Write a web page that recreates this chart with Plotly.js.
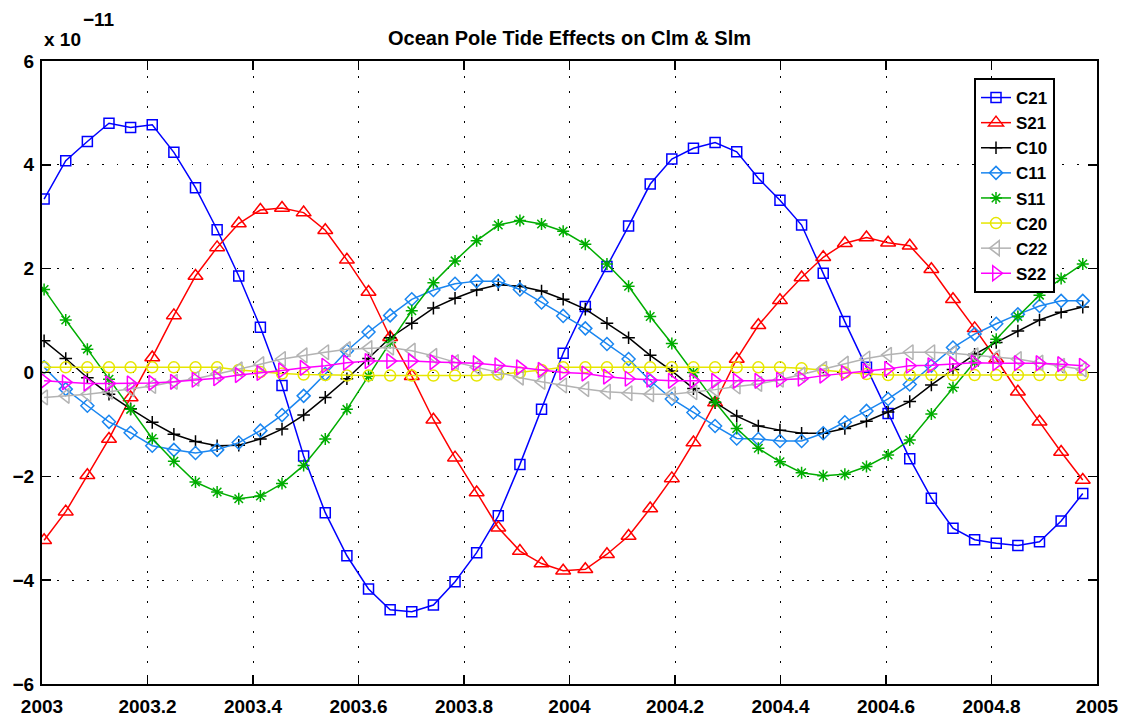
<!DOCTYPE html>
<html>
<head>
<meta charset="utf-8">
<script src="https://cdn.plot.ly/plotly-3.0.1.min.js"></script>
<style>html,body{margin:0;padding:0;background:#fff;}#chart{width:1128px;height:719px;}</style>
</head>
<body>
<div id="chart"></div>
<script>
// Decimal years (semi-monthly samples)
const dates = [2003.004, 2003.045, 2003.086, 2003.127, 2003.168, 2003.209, 2003.250, 2003.291, 2003.332, 2003.373,
  2003.414, 2003.455, 2003.496, 2003.537, 2003.578, 2003.619, 2003.660, 2003.701, 2003.742, 2003.783,
  2003.824, 2003.865, 2003.906, 2003.947, 2003.988, 2004.030, 2004.071, 2004.112, 2004.153, 2004.194,
  2004.235, 2004.276, 2004.317, 2004.358, 2004.399, 2004.440, 2004.481, 2004.522, 2004.563, 2004.604,
  2004.645, 2004.686, 2004.727, 2004.768, 2004.809, 2004.850, 2004.891, 2004.932, 2004.973];

// Values in units of 1e-11
const C21 = [3.34, 4.08, 4.45, 4.80, 4.72, 4.77, 4.24, 3.56, 2.75, 1.86, 0.87, -0.25, -1.61, -2.70, -3.53, -4.17, -4.57, -4.61, -4.48, -4.03,
  -3.47, -2.76, -1.77, -0.71, 0.37, 1.27, 2.04, 2.82, 3.63, 4.11, 4.32, 4.43, 4.25, 3.74, 3.32, 2.84, 1.91, 0.98, 0.10, -0.79,
  -1.66, -2.42, -3.00, -3.22, -3.29, -3.33, -3.26, -2.86, -2.33];
const S21 = [-3.23, -2.68, -1.98, -1.28, -0.48, 0.29, 1.10, 1.86, 2.41, 2.87, 3.13, 3.17, 3.08, 2.74, 2.17, 1.55, 0.68, -0.07, -0.91, -1.64,
  -2.31, -2.99, -3.44, -3.68, -3.82, -3.79, -3.50, -3.15, -2.62, -2.04, -1.35, -0.58, 0.26, 0.91, 1.39, 1.83, 2.22, 2.49, 2.60, 2.50,
  2.44, 1.99, 1.41, 0.85, 0.26, -0.37, -0.95, -1.53, -2.07];
const C10 = [0.61, 0.27, -0.10, -0.42, -0.70, -0.96, -1.19, -1.33, -1.41, -1.40, -1.28, -1.09, -0.82, -0.48, -0.12, 0.27, 0.67, 0.95, 1.24, 1.43,
  1.59, 1.69, 1.66, 1.57, 1.41, 1.22, 0.95, 0.67, 0.33, 0.03, -0.31, -0.58, -0.84, -1.03, -1.11, -1.17, -1.17, -1.08, -0.94, -0.76,
  -0.56, -0.24, 0.06, 0.35, 0.58, 0.80, 1.01, 1.16, 1.26];
const C11 = [0.10, -0.32, -0.64, -0.95, -1.16, -1.41, -1.49, -1.55, -1.49, -1.35, -1.12, -0.82, -0.45, -0.03, 0.42, 0.78, 1.10, 1.41, 1.59, 1.71,
  1.76, 1.76, 1.60, 1.35, 1.09, 0.85, 0.55, 0.26, -0.16, -0.51, -0.77, -1.03, -1.27, -1.28, -1.32, -1.32, -1.17, -0.96, -0.74, -0.51,
  -0.23, 0.13, 0.48, 0.74, 0.94, 1.12, 1.28, 1.38, 1.38];
const S11 = [1.60, 1.01, 0.45, -0.13, -0.71, -1.27, -1.71, -2.11, -2.30, -2.43, -2.38, -2.14, -1.79, -1.28, -0.71, -0.07, 0.58, 1.19, 1.73, 2.15,
  2.54, 2.84, 2.93, 2.86, 2.72, 2.47, 2.09, 1.66, 1.08, 0.56, 0.00, -0.57, -1.08, -1.46, -1.72, -1.93, -1.99, -1.96, -1.81, -1.59,
  -1.30, -0.80, -0.29, 0.20, 0.64, 1.08, 1.49, 1.81, 2.09];
const C20 = [0.10, 0.10, 0.10, 0.10, 0.10, 0.10, 0.10, 0.10, 0.10, 0.05, 0.01, -0.02, -0.04, -0.05, -0.06, -0.06, -0.06, -0.06, -0.06, -0.06,
  -0.06, -0.04, 0.00, 0.05, 0.10, 0.10, 0.10, 0.10, 0.10, 0.10, 0.10, 0.10, 0.10, 0.10, 0.10, 0.08, 0.04, 0.00, -0.03, -0.05,
  -0.05, -0.05, -0.05, -0.05, -0.05, -0.05, -0.05, -0.05, -0.05];
const C22 = [-0.48, -0.45, -0.42, -0.37, -0.32, -0.26, -0.18, -0.12, -0.03, 0.06, 0.16, 0.26, 0.33, 0.39, 0.45, 0.47, 0.48, 0.42, 0.32, 0.20,
  0.10, 0.00, -0.10, -0.18, -0.25, -0.32, -0.37, -0.40, -0.42, -0.42, -0.38, -0.33, -0.27, -0.22, -0.14, -0.04, 0.07, 0.17, 0.27, 0.34,
  0.39, 0.39, 0.37, 0.33, 0.29, 0.26, 0.19, 0.13, 0.06];
const S22 = [-0.16, -0.19, -0.21, -0.21, -0.21, -0.20, -0.18, -0.14, -0.11, -0.05, -0.01, 0.04, 0.09, 0.13, 0.19, 0.22, 0.22, 0.22, 0.20, 0.19,
  0.18, 0.14, 0.10, 0.05, 0.00, -0.02, -0.08, -0.12, -0.14, -0.16, -0.16, -0.16, -0.16, -0.16, -0.14, -0.12, -0.06, -0.01, 0.03, 0.07,
  0.13, 0.14, 0.16, 0.19, 0.18, 0.18, 0.18, 0.16, 0.13];

const seriesNames = ['C21', 'S21', 'C10', 'C11', 'S11', 'C20', 'C22', 'S22'];
const seriesValues = [C21, S21, C10, C11, S11, C20, C22, S22];
const seriesColors = ['#0000ff', '#ff0000', '#000000', '#1a86f0', '#00ad00', '#e6e600', '#b3b3b3', '#ff00ff'];
const seriesSymbols = ['square-open', 'triangle-up-open', 'cross-thin-open', 'diamond-open', 'asterisk-open', 'circle-open', 'triangle-left-open', 'triangle-right-open'];
const seriesSizes = [10, 13, 9, 10, 10, 11, 13, 13];

const xTickVals = [2003, 2003.2, 2003.4, 2003.6, 2003.8, 2004, 2004.2, 2004.4, 2004.6, 2004.8, 2005];
const xTickText = ['2003', '2003.2', '2003.4', '2003.6', '2003.8', '2004', '2004.2', '2004.4', '2004.6', '2004.8', '2005'];
const yTickVals = [-6, -4, -2, 0, 2, 4, 6];
const yTickText = ['\u22126', '\u22124', '\u22122', '0', '2', '4', '6'];

const FONT = 'Liberation Sans, Arial, Helvetica, sans-serif';

const traces = seriesNames.map((name, k) => ({
  type: 'scatter',
  mode: 'lines+markers',
  name: name,
  x: dates,
  y: seriesValues[k],
  line: {color: seriesColors[k], width: 1.5},
  marker: {symbol: seriesSymbols[k], size: seriesSizes[k], color: seriesColors[k], line: {color: seriesColors[k], width: 1.5}}
}));

const axisCommon = {
  showline: true, linecolor: '#000', linewidth: 2, mirror: 'ticks',
  ticks: 'inside', ticklen: 9, tickwidth: 1.5, tickcolor: '#000',
  showgrid: true, gridcolor: '#000', gridwidth: 1, griddash: '1.5px,13.5px',
  zeroline: false,
  tickfont: {family: FONT, size: 19, color: '#000', weight: 'bold'}
};

const layout = {
  width: 1128, height: 719,
  margin: {l: 42, r: 31, t: 61, b: 35, pad: 0},
  paper_bgcolor: '#fff', plot_bgcolor: '#fff',
  title: {text: 'Ocean Pole Tide Effects on Clm &amp; Slm', font: {family: FONT, size: 20, color: '#000', weight: 'bold'},
          x: 0.5, xref: 'paper', y: 1 - 38/719, yref: 'container', yanchor: 'middle'},
  xaxis: Object.assign({}, axisCommon, {range: [2003, 2005], tickmode: 'array', tickvals: xTickVals, ticktext: xTickText, ticklabelstandoff: 4}),
  yaxis: Object.assign({}, axisCommon, {range: [-6, 6], tickmode: 'array', tickvals: yTickVals, ticktext: yTickText, ticklabelstandoff: 2}),
  showlegend: true,
  legend: {x: (974-42)/1055, y: (684-78)/623, xanchor: 'left', yanchor: 'top',
           bgcolor: '#fff', bordercolor: '#000', borderwidth: 2,
           font: {family: FONT, size: 17, color: '#000', weight: 'bold'}, tracegroupgap: 0},
  annotations: [
    {text: 'x 10', xref: 'paper', yref: 'paper', x: 0, y: (684-40)/623, xanchor: 'left', yanchor: 'middle', showarrow: false,
     font: {family: FONT, size: 19, color: '#000', weight: 'bold'}},
    {text: '\u221211', xref: 'paper', yref: 'paper', x: (81-42)/1055, y: (684-19)/623, xanchor: 'left', yanchor: 'middle', showarrow: false,
     font: {family: FONT, size: 19, color: '#000', weight: 'bold'}}
  ]
};

Plotly.newPlot('chart', traces, layout, {displayModeBar: false, staticPlot: true});
</script>
</body>
</html>
